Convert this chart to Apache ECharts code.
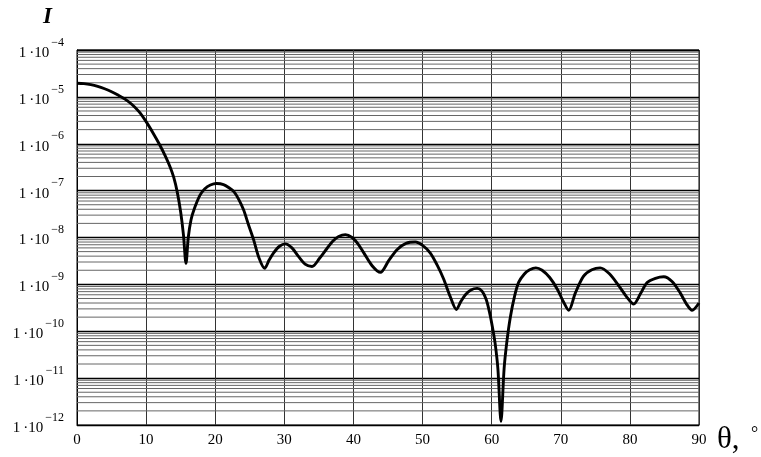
<!DOCTYPE html>
<html><head><meta charset="utf-8">
<script src="https://cdn.jsdelivr.net/npm/echarts@6/dist/echarts.min.js"></script>
<style>html,body{margin:0;padding:0;background:#fff}#c{width:761px;height:457px}</style>
</head><body><div id="c"></div>
<script>
var theta = [0, 1, 2, 3, 4, 5, 6, 7, 8, 9, 10, 11, 12, 12.8, 13.5, 14.0, 14.5, 15.0, 15.4, 15.77, 16.1, 16.5, 17.0, 17.8, 18.5, 19.3, 20.2, 21.2, 22.0, 22.7, 23.4, 24.1, 24.8, 25.56, 26.3, 27.15, 27.8, 28.45, 29.3, 30.14, 31.1, 32.07, 33.0, 34.0, 35.1, 36.2, 37.0, 37.86, 38.84, 39.8, 40.6, 41.5, 42.7, 43.9, 45.1, 46.3, 47.6, 48.96, 50.0, 51.1, 52.1, 53.05, 54.0, 54.9, 55.5, 56.2, 57.0, 57.9, 58.6, 59.2, 59.7, 60.1, 60.5, 60.9, 61.35, 61.8, 62.2, 62.7, 63.3, 63.9, 64.7, 65.5, 66.4, 67.3, 68.4, 69.5, 70.4, 71.15, 72.1, 73.3, 74.5, 75.7, 77.0, 78.4, 79.5, 80.55, 81.5, 82.5, 83.7, 84.9, 86.1, 87.3, 88.2, 89.0, 90];
var intensity = [1.95e-5, 1.92e-5, 1.83e-5, 1.68e-5, 1.49e-5, 1.29e-5, 1.08e-5, 8.85e-6, 6.8e-6, 4.77e-6, 2.96e-6, 1.7e-6, 9.3e-7, 5.36e-7, 3.12e-7, 1.91e-7, 9.4e-8, 3.5e-8, 1.15e-8, 2.8e-9, 1.0e-8, 2.4e-8, 4.2e-8, 8e-8, 1.1e-7, 1.32e-7, 1.42e-7, 1.35e-7, 1.15e-7, 9.5e-8, 6.5e-8, 3.9e-8, 1.9e-8, 8.9e-9, 3.8e-9, 2.2e-9, 3.3e-9, 4.7e-9, 6.5e-9, 7.3e-9, 6.0e-9, 3.9e-9, 2.7e-9, 2.4e-9, 3.6e-9, 5.9e-9, 8.3e-9, 1.05e-8, 1.15e-8, 1.0e-8, 7.5e-9, 4.7e-9, 2.5e-9, 1.8e-9, 3.2e-9, 5.5e-9, 7.5e-9, 8.0e-9, 6.8e-9, 4.7e-9, 2.6e-9, 1.3e-9, 5.5e-10, 2.9e-10, 4.2e-10, 6.0e-10, 7.6e-10, 8.2e-10, 7.2e-10, 4.8e-10, 2.5e-10, 1.25e-10, 5.5e-11, 1.6e-11, 1.2e-12, 1.6e-11, 6e-11, 2.0e-10, 5.5e-10, 1.1e-9, 1.65e-9, 2.05e-9, 2.25e-9, 2.0e-9, 1.4e-9, 7.9e-10, 4.2e-10, 2.8e-10, 6.5e-10, 1.5e-9, 2.05e-9, 2.25e-9, 1.7e-9, 9.3e-10, 5.5e-10, 3.8e-10, 6.2e-10, 1.1e-9, 1.35e-9, 1.45e-9, 1.15e-9, 6.5e-10, 3.8e-10, 2.8e-10, 4.0e-10];
var xTicks = [0, 10, 20, 30, 40, 50, 60, 70, 80, 90];
var yExponents = [-12, -11, -10, -9, -8, -7, -6, -5, -4];
var minorFactors = [2, 3, 4, 5, 6, 7, 8, 9];

var data = theta.map(function (t, i) { return [t, intensity[i]]; });
var xMin = xTicks[0], xMax = xTicks[xTicks.length - 1];
var gridSeries = [];
yExponents.slice(0, -1).forEach(function (e) {
  minorFactors.forEach(function (f) {
    var v = f * Math.pow(10, e);
    gridSeries.push({
      type: 'line', data: [[xMin, v], [xMax, v]], silent: true, symbol: 'none', showSymbol: false,
      lineStyle: { color: '#666', width: 1 }, z: 1, tooltip: { show: false }
    });
  });
});
var serif = '"Liberation Serif", "DejaVu Serif", serif';
var chart = echarts.init(document.getElementById('c'));
chart.setOption({
  animation: false,
  backgroundColor: '#fff',
  grid: { left: 77, right: 62, top: 50, bottom: 32, show: true, borderColor: '#000', borderWidth: 1, backgroundColor: 'transparent' },
  xAxis: {
    type: 'value', min: xMin, max: xMax, interval: 10,
    axisLine: { show: true, lineStyle: { color: '#000', width: 1 } },
    axisTick: { show: false },
    splitLine: { show: true, lineStyle: { color: '#333', width: 1 } },
    axisLabel: { color: '#000', fontFamily: serif, fontSize: 15, margin: 8 }
  },
  yAxis: {
    type: 'log', logBase: 10, min: Math.pow(10, yExponents[0]), max: Math.pow(10, yExponents[yExponents.length - 1]),
    axisLine: { show: true, lineStyle: { color: '#000', width: 1 } },
    axisTick: { show: false },
    splitLine: { show: true, lineStyle: { color: '#000', width: 1.4 } },
    axisLabel: {
      color: '#000', fontFamily: serif, margin: 13,
      formatter: function (v) {
        var e = Math.round(Math.log10(v));
        return '{a|1\u2009\u00b710}{b|\u2212' + Math.abs(e) + '}';
      },
      rich: {
        a: { fontSize: 15, fontFamily: serif, color: '#000', padding: [6, 0, 0, 0] },
        b: { fontSize: 12, fontFamily: serif, color: '#000', padding: [0, 0, 15, 2] }
      }
    }
  },
  graphic: [
    { type: 'text', left: 43, top: 6, style: { text: 'I', font: 'italic bold 23px ' + serif, fill: '#000' } },
    { type: 'text', left: 717, top: 424, style: { text: '\u03b8,', font: '31px ' + serif, fill: '#000' } },
    { type: 'text', left: 751, top: 425, style: { text: '\u00b0', font: '18px ' + serif, fill: '#000' } }
  ],
  series: gridSeries.concat([
    {
      type: 'line', data: data, smooth: 0.3, showSymbol: false, symbol: 'none',
      lineStyle: { color: '#000', width: 2.9 }, z: 5
    }
  ])
});
</script></body></html>
